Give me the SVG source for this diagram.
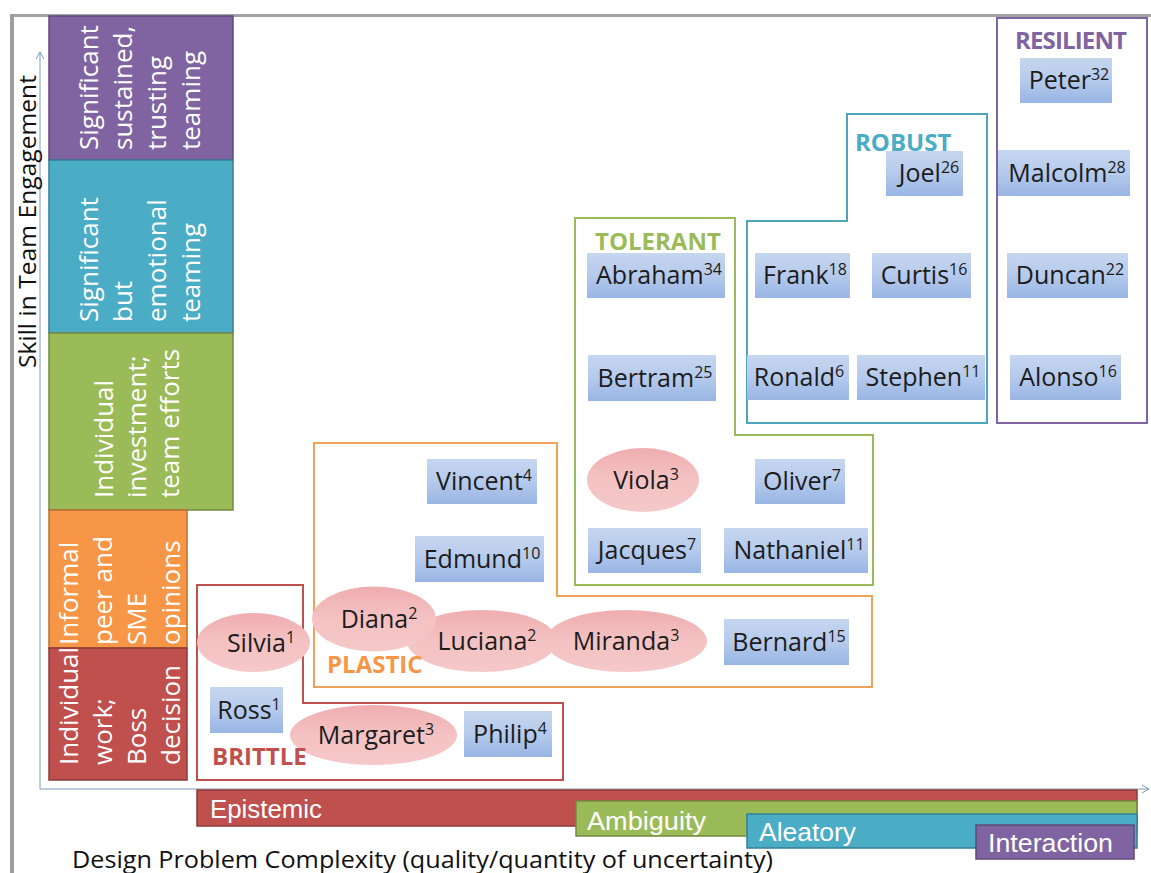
<svg xmlns="http://www.w3.org/2000/svg" width="1151" height="873" viewBox="0 0 1151 873">
<style>
.name{font-family:"Open Sans","DejaVu Sans",sans-serif;font-size:25px;fill:#1c1c1c;text-anchor:middle}
.sup{font-size:16px}
.lbl{font-family:"Open Sans","DejaVu Sans",sans-serif;font-size:24px;font-weight:bold}
.col{font-family:"Open Sans","DejaVu Sans",sans-serif;font-size:26px;fill:#ffffff}
.bar{font-family:"Liberation Sans",Arial,sans-serif;font-size:25px;fill:#ffffff}
.grp{fill:none;stroke-width:2}
.rb{fill:url(#blueGrad)}
.el{fill:url(#pinkGrad)}
</style>
<defs>
<linearGradient id="blueGrad" x1="0" y1="0" x2="0" y2="1">
<stop offset="0" stop-color="#c6d6ef"/>
<stop offset="0.5" stop-color="#b5caec"/>
<stop offset="1" stop-color="#98b5e4"/>
</linearGradient>
<linearGradient id="pinkGrad" x1="0" y1="0" x2="0" y2="1">
<stop offset="0" stop-color="#efadb0"/>
<stop offset="0.5" stop-color="#f4c2c3"/>
<stop offset="1" stop-color="#f5c8c9"/>
</linearGradient>
<marker id="arr" markerWidth="10" markerHeight="10" refX="8" refY="5" orient="auto" markerUnits="userSpaceOnUse">
<path d="M1,1 L8,5 L1,9" fill="none" stroke="#7f9cbc" stroke-width="1"/>
</marker>
</defs>

<rect x="0" y="0" width="1151" height="873" fill="#ffffff"/>

<!-- frame -->
<g id="frame">
<rect x="10" y="14" width="1141" height="3" fill="#a3a3a3"/>
<rect x="10" y="14" width="4" height="859" fill="#9d9d9d"/>
</g>

<!-- axes -->
<g id="axes" stroke="#7f9cbc" stroke-width="1" fill="none">
<path d="M40,789 V52" marker-end="url(#arr)"/>
<path d="M40,789 H1149" marker-end="url(#arr)"/>
</g>
<text transform="translate(36,368) rotate(-90)" font-family="'Open Sans','DejaVu Sans',sans-serif" font-size="23" fill="#111" textLength="293" lengthAdjust="spacingAndGlyphs">Skill in Team Engagement</text>

<!-- left skill column -->
<g id="skill-sustained">
<rect x="49" y="16" width="184" height="144" fill="#8064a2" stroke="#5e4a7a" stroke-width="1.5"/>
<text class="col" transform="translate(98,150) rotate(-90)">Significant</text>
<text class="col" transform="translate(132,150) rotate(-90)">sustained,</text>
<text class="col" transform="translate(166,150) rotate(-90)">trusting</text>
<text class="col" transform="translate(200,150) rotate(-90)">teaming</text>
</g>
<g id="skill-emotional">
<rect x="49" y="160" width="184" height="173" fill="#4bacc6" stroke="#367f93" stroke-width="1.5"/>
<text class="col" transform="translate(98,322) rotate(-90)">Significant</text>
<text class="col" transform="translate(132,322) rotate(-90)">but</text>
<text class="col" transform="translate(166,322) rotate(-90)">emotional</text>
<text class="col" transform="translate(200,322) rotate(-90)">teaming</text>
</g>
<g id="skill-individual">
<rect x="49" y="333" width="184" height="177" fill="#9bbb59" stroke="#718a3f" stroke-width="1.5"/>
<text class="col" transform="translate(113,498) rotate(-90)">Individual</text>
<text class="col" transform="translate(146,498) rotate(-90)">investment;</text>
<text class="col" transform="translate(179,498) rotate(-90)">team efforts</text>
</g>
<g id="skill-informal">
<rect x="49" y="510" width="138" height="138" fill="#f79646" stroke="#b86d32" stroke-width="1.5"/>
<text class="col" transform="translate(78,645) rotate(-90)">Informal</text>
<text class="col" transform="translate(112,645) rotate(-90)">peer and</text>
<text class="col" transform="translate(146,645) rotate(-90)">SME</text>
<text class="col" transform="translate(180,645) rotate(-90)">opinions</text>
</g>
<g id="skill-boss">
<rect x="49" y="648" width="138" height="132" fill="#c0504d" stroke="#8c3a38" stroke-width="1.5"/>
<text class="col" transform="translate(78,765) rotate(-90)">Individual</text>
<text class="col" transform="translate(112,765) rotate(-90)">work;</text>
<text class="col" transform="translate(146,765) rotate(-90)">Boss</text>
<text class="col" transform="translate(180,765) rotate(-90)">decision</text>
</g>

<!-- group outlines -->
<g id="group-outlines">
<path id="group-brittle" class="grp" stroke="#c0504d" d="M197,585 H303 V703 H563 V780 H197 Z"/>
<path id="group-plastic" class="grp" stroke="#f0a257" d="M314,443 H557 V596 H872 V687 H314 Z"/>
<path id="group-tolerant" class="grp" stroke="#9bbb59" d="M575,218 H735 V435 H873 V585 H575 Z"/>
<path id="group-robust" class="grp" stroke="#4ba6bc" d="M747,221 H847 V114 H987 V423 H747 Z"/>
<rect id="group-resilient" class="grp" stroke="#8064a2" x="997" y="18" width="150" height="405"/>
</g>

<!-- nodes -->
<g id="n-peter"><rect class="rb" x="1020" y="58" width="92" height="45"/><text class="name" x="1069" y="89">Peter<tspan class="sup" dy="-9">32</tspan></text></g>
<g id="n-malcolm"><rect class="rb" x="998" y="150" width="132" height="46"/><text class="name" x="1067" y="182">Malcolm<tspan class="sup" dy="-9">28</tspan></text></g>
<g id="n-duncan"><rect class="rb" x="1007" y="253" width="121" height="45"/><text class="name" x="1070" y="284">Duncan<tspan class="sup" dy="-9">22</tspan></text></g>
<g id="n-alonso"><rect class="rb" x="1010" y="355" width="111" height="45"/><text class="name" x="1068" y="386">Alonso<tspan class="sup" dy="-9">16</tspan></text></g>
<g id="n-joel"><rect class="rb" x="886" y="151" width="77" height="45"/><text class="name" x="929" y="182">Joel<tspan class="sup" dy="-9">26</tspan></text></g>
<g id="n-frank"><rect class="rb" x="755" y="253" width="95" height="45"/><text class="name" x="805" y="284">Frank<tspan class="sup" dy="-9">18</tspan></text></g>
<g id="n-curtis"><rect class="rb" x="872" y="253" width="99" height="45"/><text class="name" x="924" y="284">Curtis<tspan class="sup" dy="-9">16</tspan></text></g>
<g id="n-ronald"><rect class="rb" x="747" y="355" width="102" height="45"/><text class="name" x="799" y="386">Ronald<tspan class="sup" dy="-9">6</tspan></text></g>
<g id="n-stephen"><rect class="rb" x="857" y="355" width="128" height="45"/><text class="name" x="923" y="386">Stephen<tspan class="sup" dy="-9">11</tspan></text></g>
<g id="n-abraham"><rect class="rb" x="587" y="253" width="138" height="45"/><text class="name" x="659" y="284">Abraham<tspan class="sup" dy="-9">34</tspan></text></g>
<g id="n-bertram"><rect class="rb" x="588" y="355" width="128" height="46"/><text class="name" x="655" y="387">Bertram<tspan class="sup" dy="-9">25</tspan></text></g>
<g id="n-viola"><ellipse class="el" cx="643" cy="480" rx="56" ry="32"/><text class="name" x="646" y="489">Viola<tspan class="sup" dy="-9">3</tspan></text></g>
<g id="n-oliver"><rect class="rb" x="755" y="459" width="90" height="45"/><text class="name" x="802" y="490">Oliver<tspan class="sup" dy="-9">7</tspan></text></g>
<g id="n-jacques"><rect class="rb" x="588" y="528" width="113" height="45"/><text class="name" x="647" y="559">Jacques<tspan class="sup" dy="-9">7</tspan></text></g>
<g id="n-nathaniel"><rect class="rb" x="724" y="528" width="144" height="45"/><text class="name" x="799" y="559">Nathaniel<tspan class="sup" dy="-9">11</tspan></text></g>
<g id="n-vincent"><rect class="rb" x="427" y="459" width="110" height="45"/><text class="name" x="484" y="490">Vincent<tspan class="sup" dy="-9">4</tspan></text></g>
<g id="n-edmund"><rect class="rb" x="415" y="536" width="129" height="46"/><text class="name" x="482" y="568">Edmund<tspan class="sup" dy="-9">10</tspan></text></g>
<g id="n-bernard"><rect class="rb" x="724" y="619" width="125" height="46"/><text class="name" x="789" y="651">Bernard<tspan class="sup" dy="-9">15</tspan></text></g>
<g id="n-luciana"><ellipse class="el" cx="482" cy="641" rx="75" ry="31"/><text class="name" x="487" y="650">Luciana<tspan class="sup" dy="-9">2</tspan></text></g>
<g id="n-miranda"><ellipse class="el" cx="626" cy="641" rx="81" ry="31"/><text class="name" x="626" y="650">Miranda<tspan class="sup" dy="-9">3</tspan></text></g>
<g id="n-diana"><ellipse class="el" cx="374" cy="619" rx="62" ry="32.5"/><text class="name" x="379" y="628">Diana<tspan class="sup" dy="-9">2</tspan></text></g>
<g id="n-silvia"><ellipse class="el" cx="253.5" cy="642.5" rx="56.5" ry="29.5"/><text class="name" x="261" y="652">Silvia<tspan class="sup" dy="-9">1</tspan></text></g>
<g id="n-ross"><rect class="rb" x="210" y="687" width="73" height="46"/><text class="name" x="249" y="719">Ross<tspan class="sup" dy="-9">1</tspan></text></g>
<g id="n-margaret"><ellipse class="el" cx="373.5" cy="735" rx="83.5" ry="30"/><text class="name" x="376" y="744">Margaret<tspan class="sup" dy="-9">3</tspan></text></g>
<g id="n-philip"><rect class="rb" x="464" y="711" width="88" height="46"/><text class="name" x="510" y="743">Philip<tspan class="sup" dy="-9">4</tspan></text></g>

<!-- group labels -->
<g id="group-labels" class="lbl">
<text fill="#c0504d" x="212" y="765">BRITTLE</text>
<text fill="#f79646" x="327" y="673">PLASTIC</text>
<text fill="#9bbb59" x="595" y="250">TOLERANT</text>
<text fill="#4bacc6" x="855" y="151">ROBUST</text>
<text fill="#8064a2" x="1015" y="49" textLength="112">RESILIENT</text>
</g>

<!-- uncertainty bars -->
<g id="bar-epistemic">
<rect x="197" y="790" width="940" height="36" fill="#c0504d" stroke="#8c3a38" stroke-width="1.5"/>
<text class="bar" x="210" y="818" textLength="112" lengthAdjust="spacingAndGlyphs">Epistemic</text>
</g>
<g id="bar-ambiguity">
<rect x="576" y="801" width="561" height="35" fill="#9bbb59" stroke="#718a3f" stroke-width="1.5"/>
<text class="bar" x="587" y="830" textLength="119" lengthAdjust="spacingAndGlyphs">Ambiguity</text>
</g>
<g id="bar-aleatory">
<rect x="747" y="814" width="390" height="34" fill="#4bacc6" stroke="#367f93" stroke-width="1.5"/>
<text class="bar" x="759" y="841" textLength="97" lengthAdjust="spacingAndGlyphs">Aleatory</text>
</g>
<g id="bar-interaction">
<rect x="976" y="825" width="158" height="34" fill="#8064a2" stroke="#5e4a7a" stroke-width="1.5"/>
<text class="bar" x="988" y="852" textLength="125" lengthAdjust="spacingAndGlyphs">Interaction</text>
</g>

<text x="72" y="868" font-family="'Open Sans','DejaVu Sans',sans-serif" font-size="24" fill="#111" textLength="701" lengthAdjust="spacingAndGlyphs">Design Problem Complexity (quality/quantity of uncertainty)</text>
</svg>
